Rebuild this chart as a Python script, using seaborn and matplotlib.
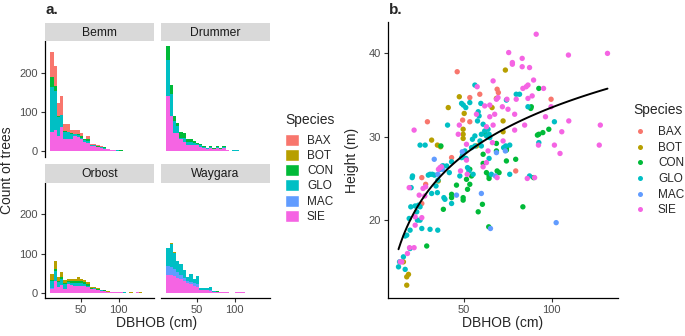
import numpy as np
import pandas as pd
import seaborn as sns
import matplotlib.pyplot as plt
from matplotlib.patches import Patch
from matplotlib.lines import Line2D

# ---- data ----
species = ["BAX", "BOT", "CON", "GLO", "MAC", "SIE"]
sites = ["Bemm", "Drummer", "Orbost", "Waygara"]
pal = ["#F8766D", "#B79F00", "#00BA38", "#00BFC4", "#619CFF", "#F564E3"]

# histogram bins of DBHOB (cm)
bin_start = 10.0
bin_width = 4.33
n_bins = 30

# counts of trees per bin (panel a)
bemm_bax = [63, 51, 34, 50, 18, 21, 6, 11, 11, 9, 2, 8, 2, 2, 2, 1, 0, 1, 0, 0, 0, 0, 0, 1]
bemm_con = [27, 14, 2, 0, 4, 0, 4, 0, 3, 3, 2, 5, 1, 1, 1, 1, 1, 0, 1, 0, 0, 1]
bemm_glo = [114, 100, 49, 30, 16, 17, 13, 6, 5, 5, 4, 4, 3, 3, 2, 2, 2, 1, 0, 1, 1]
bemm_sie = [49, 53, 38, 62, 32, 32, 30, 38, 36, 30, 24, 21, 13, 13, 10, 9, 7, 5, 3, 2, 1, 1, 1]

drummer_con = [34, 24, 11, 8, 15, 13, 7, 7, 6, 3, 4, 2, 1, 2, 2, 2, 2, 2, 1, 0, 1]
drummer_glo = [94, 57, 31, 17, 4, 10, 6, 6, 5, 3, 3, 2, 1, 2, 1, 2, 1, 2, 1, 0, 2, 1]
drummer_sie = [140, 89, 47, 47, 30, 24, 17, 17, 15, 15, 12, 9, 7, 9, 6, 9, 6, 9, 2, 0, 1, 1, 1, 1, 1]

orbost_bot = [15, 20, 9, 13, 6, 6, 5, 5, 9, 7, 5, 5, 2, 2, 1, 1, 1, 1, 0, 0, 0, 1, 0, 0, 1, 0, 0, 1]
orbost_con = [4, 5, 4, 4, 4, 2, 3, 3, 4, 4, 5, 5, 3, 2, 2, 1, 1, 1, 1, 0, 1]
orbost_glo = [18, 25, 12, 17, 12, 6, 6, 8, 8, 7, 6, 3, 1, 2, 1, 1, 1, 0, 0, 1, 0, 0, 1]
orbost_mac = [1, 0, 0, 0, 0, 0, 0, 0, 0, 0, 0, 0, 0, 0, 0, 0, 0, 0, 1]
orbost_sie = [10, 30, 15, 19, 10, 22, 20, 18, 18, 18, 16, 15, 9, 9, 7, 5, 4, 2, 1, 1, 1, 1, 0, 0, 0, 0, 1]

waygara_bot = [2, 3, 2]
waygara_con = [0, 0, 0, 0, 0, 0, 0, 0, 0, 0, 0, 0, 0, 0, 0, 1]
waygara_glo = [45, 59, 41, 27, 28, 21, 10, 20, 10, 20, 3, 4, 4, 9, 1, 1]
waygara_mac = [23, 21, 19, 15, 10, 8, 5, 5, 6, 8, 1, 1, 1, 1, 1, 0, 1]
waygara_sie = [45, 45, 42, 38, 35, 30, 25, 22, 18, 14, 7, 6, 6, 5, 2, 2, 1, 1, 1, 0, 0, 1, 1, 1]

hist_counts = {
    ("Bemm", "BAX"): bemm_bax, ("Bemm", "CON"): bemm_con,
    ("Bemm", "GLO"): bemm_glo, ("Bemm", "SIE"): bemm_sie,
    ("Drummer", "CON"): drummer_con, ("Drummer", "GLO"): drummer_glo,
    ("Drummer", "SIE"): drummer_sie,
    ("Orbost", "BOT"): orbost_bot, ("Orbost", "CON"): orbost_con,
    ("Orbost", "GLO"): orbost_glo, ("Orbost", "MAC"): orbost_mac,
    ("Orbost", "SIE"): orbost_sie,
    ("Waygara", "BOT"): waygara_bot, ("Waygara", "CON"): waygara_con,
    ("Waygara", "GLO"): waygara_glo, ("Waygara", "MAC"): waygara_mac,
    ("Waygara", "SIE"): waygara_sie,
}

# height vs DBHOB (panel b)
bax_dbh = [46.0, 68.8, 53.2, 58.9, 99.6, 29.0, 53.2, 49.1, 42.8, 25.8, 28.0, 25.8, 79.4, 69.5]
bax_ht = [37.8, 35.7, 34.7, 35.1, 34.5, 31.8, 31.8, 32.0, 27.5, 25.1, 24.3, 22.0, 25.9, 35.3]
bot_dbh = [47.2, 73.5, 40.9, 50.0, 49.4, 49.4, 49.4, 31.4, 34.7, 35.2, 57.0, 65.9, 68.4, 72.2,
           72.2, 15.3, 18.2, 17.2, 17.2, 36.5]
bot_ht = [34.8, 38.0, 33.5, 32.8, 30.9, 30.3, 29.8, 29.6, 29.0, 24.7, 28.9, 33.5, 34.6, 31.9,
          30.6, 15.0, 13.5, 13.2, 12.2, 28.8]
con_dbh = [92.6, 88.3, 94.9, 92.6, 98.3, 74.1, 74.1, 79.4, 74.1, 68.8, 69.9, 68.4, 68.4, 64.2,
           64.2, 62.7, 60.8, 60.8, 62.1, 53.2, 54.2, 51.3, 51.9, 53.2, 49.4, 49.4, 45.6, 42.8,
           42.8, 38.1, 36.7, 28.6, 58.0, 60.4, 64.0, 83.5, 89.6, 91.8, 88.0]
con_ht = [35.8, 33.6, 30.5, 30.3, 30.9, 28.6, 28.4, 27.3, 27.1, 25.9, 25.7, 29.2, 28.3, 25.3,
          25.0, 25.7, 26.8, 27.9, 30.3, 26.1, 25.3, 24.9, 23.7, 24.3, 22.4, 22.7, 24.2, 23.1,
          22.7, 21.3, 28.9, 16.9, 21.0, 21.9, 19.2, 21.6, 25.1, 30.2, 33.4]
glo_dbh = [56.1, 81.6, 86.4, 79.7, 53.2, 48.5, 49.5, 50.9, 59.5, 58.0, 58.5, 57.6, 60.8, 61.7,
           63.6, 64.2, 64.6, 59.8, 56.1, 54.7, 59.0, 59.8, 56.1, 54.2, 50.4, 49.1, 51.0, 51.9,
           52.7, 40.5, 40.0, 38.1, 36.2, 41.5, 38.4, 39.0, 42.8, 35.0, 33.9, 34.7, 31.4, 29.5,
           30.5, 31.8, 33.0, 24.8, 27.7, 20.5, 20.3, 19.7, 22.0, 23.9, 24.8, 19.5, 22.9, 23.3,
           24.8, 25.8, 30.5, 34.9, 18.6, 19.1, 17.2, 16.3, 19.1, 15.3, 13.1, 12.5, 16.3, 47.5,
           48.5, 55.1, 64.2, 65.5, 76.0, 76.0, 73.7, 72.5, 74.1, 87.3, 92.6, 101.5, 62.7, 37.5,
           42.8]
glo_ht = [36.2, 35.1, 33.6, 35.1, 34.1, 34.0, 33.8, 33.5, 34.0, 33.0, 32.5, 31.9, 31.5, 30.7,
          30.9, 30.3, 29.9, 30.3, 30.1, 29.7, 29.5, 28.9, 28.9, 28.7, 28.3, 27.8, 27.4, 26.3,
          25.9, 31.4, 26.5, 26.5, 26.1, 25.7, 22.7, 22.5, 22.0, 24.8, 24.1, 23.3, 23.2, 25.4,
          25.5, 25.5, 25.4, 29.0, 29.0, 25.3, 25.1, 23.9, 21.7, 21.8, 21.6, 21.6, 21.0, 20.0,
          20.0, 19.0, 18.9, 18.8, 20.2, 18.8, 18.2, 18.1, 16.6, 15.6, 15.0, 14.4, 14.1, 25.3,
          27.5, 25.5, 27.4, 25.5, 25.5, 29.0, 28.9, 28.7, 34.4, 25.3, 29.3, 31.8, 30.1, 26.5,
          27.0]
mac_dbh = [32.9, 45.6, 59.8, 65.0, 102.5, 68.4, 73.5, 48.9, 37.7, 67.8, 35.0]
mac_ht = [27.3, 23.0, 23.2, 19.0, 19.7, 28.1, 28.3, 28.2, 26.1, 25.3, 25.5]
sie_dbh = [91.1, 75.4, 77.5, 77.5, 83.1, 83.1, 87.3, 109.5, 131.8, 89.6, 83.5, 85.4, 86.4, 95.3,
           96.4, 88.8, 86.4, 99.6, 105.7, 109.7, 127.7, 127.1, 104.7, 101.5, 92.4, 90.2, 86.0,
           84.5, 78.8, 79.7, 75.0, 74.4, 71.8, 69.3, 68.4, 66.5, 57.4, 57.0, 61.7, 64.6, 67.4,
           64.6, 66.5, 62.7, 51.3, 47.2, 46.6, 51.3, 47.9, 51.7, 63.6, 66.1, 72.2, 78.8, 62.7,
           60.8, 68.8, 36.2, 35.3, 37.0, 21.4, 18.6, 24.3, 27.5, 25.8, 22.0, 22.0, 18.8, 21.4,
           17.6, 14.4, 13.5, 28.0, 26.5]
sie_ht = [42.3, 40.1, 38.9, 38.7, 39.4, 38.4, 38.3, 39.8, 40.0, 36.8, 35.8, 36.0, 36.2, 35.8,
          32.4, 34.9, 34.6, 33.6, 30.6, 31.9, 31.4, 29.0, 28.0, 29.0, 29.0, 25.1, 25.0, 31.4,
          32.7, 34.5, 33.3, 34.5, 33.6, 34.7, 34.5, 36.7, 36.0, 32.7, 33.7, 33.8, 32.7, 32.4,
          31.4, 31.2, 29.1, 31.4, 30.3, 27.2, 25.9, 25.5, 28.3, 29.3, 29.5, 30.8, 26.9, 26.4,
          25.1, 26.3, 26.1, 26.4, 30.8, 23.9, 23.0, 22.9, 20.3, 20.4, 19.4, 16.7, 16.7, 16.0,
          15.0, 15.0, 24.0, 23.8]

# ---- tidy frames ----
bin_end = bin_start + n_bins * bin_width
mids = bin_start + bin_width * (np.arange(n_bins) + 0.5)
rows = []
for site in sites:
    for sp in species:
        counts = hist_counts.get((site, sp), [])
        counts = list(counts) + [0] * (n_bins - len(counts))
        for m, c in zip(mids, counts):
            rows.append((site, sp, m, c))
hist_df = pd.DataFrame(rows, columns=["Site", "Species", "DBHOB", "Count"])

pts = []
for sp, xs, ys in zip(species, [bax_dbh, bot_dbh, con_dbh, glo_dbh, mac_dbh, sie_dbh],
                      [bax_ht, bot_ht, con_ht, glo_ht, mac_ht, sie_ht]):
    for x, y in zip(xs, ys):
        pts.append((sp, x, y))
tree_df = pd.DataFrame(pts, columns=["Species", "DBHOB", "Height"])

# ---- figure ----
sns.set_style("white")
plt.rcParams["font.family"] = ["Liberation Sans", "DejaVu Sans"]
W, H = 685, 336
fig = plt.figure(figsize=(W / 100, H / 100), dpi=100)


def box(x0, y0, x1, y1):
    # pixel box (top-left origin) -> figure fraction rect
    return [x0 / W, 1 - y1 / H, (x1 - x0) / W, (y1 - y0) / H]


def style_axis(ax, left, bottom):
    for s in ["top", "right"]:
        ax.spines[s].set_visible(False)
    ax.spines["left"].set_visible(left)
    ax.spines["bottom"].set_visible(bottom)
    for s in ["left", "bottom"]:
        ax.spines[s].set_linewidth(0.9)
        ax.spines[s].set_color("black")
    ax.tick_params(axis="y", left=left, labelleft=left, length=3, width=0.8,
                   color="#333333", labelcolor="#4D4D4D", labelsize=8, pad=2)
    ax.tick_params(axis="x", bottom=bottom, labelbottom=bottom, length=3, width=0.8,
                   color="#333333", labelcolor="#4D4D4D", labelsize=8, pad=2)
    ax.set_xlabel("")
    ax.set_ylabel("")


# panel a: facets
cols_x = [(45, 154), (161, 270)]
rows_y = [((23, 41), (41, 156.5)), ((164, 182.5), (182.5, 298))]
for i, site in enumerate(sites):
    r, c = divmod(i, 2)
    (sx0, sx1) = cols_x[c]
    (st0, st1), (py0, py1) = rows_y[r]
    ax = fig.add_axes(box(sx0, py0, sx1, py1))
    sns.histplot(data=hist_df[hist_df["Site"] == site], x="DBHOB", weights="Count",
                 hue="Species", hue_order=species, palette=pal, binwidth=bin_width,
                 binrange=(bin_start, bin_end), multiple="stack", linewidth=0, alpha=1,
                 legend=False, ax=ax)
    ax.set_xlim(3.0, 146.5)
    ax.set_ylim(-13.4, 281.4)
    ax.set_xticks([50, 100])
    ax.set_yticks([0, 100, 200])
    style_axis(ax, left=(c == 0), bottom=(r == 1))

    strip = fig.add_axes(box(sx0, st0, sx1, st1))
    strip.set_facecolor("#D9D9D9")
    strip.set_xticks([])
    strip.set_yticks([])
    for s in strip.spines.values():
        s.set_visible(False)
    strip.text(0.5, 0.45, site, ha="center", va="center", fontsize=8.7, color="#1A1A1A")

fig.text(7 / W, 1 - 170 / H, "Count of trees", rotation=90, ha="center", va="center",
         fontsize=10)
fig.text(157 / W, 1 - 323 / H, "DBHOB (cm)", ha="center", va="center", fontsize=10)
fig.text(45 / W, 1 - 10 / H, "a.", ha="left", va="center", fontsize=11, fontweight="bold")

# legend a (title drawn separately for ggplot-like spacing)
fig.text(285 / W, 1 - 120 / H, "Species", ha="left", va="center", fontsize=10)
fig.legend(handles=[Patch(facecolor=p, edgecolor="white", label=s)
                    for s, p in zip(species, pal)],
           loc="upper left", bbox_to_anchor=(284.5 / W, 1 - 133.5 / H),
           frameon=False, fontsize=8.5, handlelength=1.2, handleheight=1.2,
           handletextpad=0.7, labelspacing=0.19, borderpad=0, borderaxespad=0)

# panel b: scatter + log fit
axb = fig.add_axes(box(388, 21.7, 618, 297.7))
sns.scatterplot(data=tree_df, x="DBHOB", y="Height", hue="Species", hue_order=species,
                palette=pal, s=15, linewidth=0, legend=False, ax=axb)
sns.regplot(data=tree_df, x="DBHOB", y="Height", logx=True, scatter=False, ci=None,
            color="black", line_kws={"lw": 1.4}, ax=axb)
axb.set_xlim(6.5, 137.8)
axb.set_ylim(10.7, 43.8)
axb.set_xticks([50, 100])
axb.set_yticks([20, 30, 40])
style_axis(axb, left=True, bottom=True)
fig.text(352 / W, 1 - 160 / H, "Height (m)", rotation=90, ha="center", va="center",
         fontsize=10)
fig.text(503 / W, 1 - 323 / H, "DBHOB (cm)", ha="center", va="center", fontsize=10)
fig.text(389 / W, 1 - 10 / H, "b.", ha="left", va="center", fontsize=11, fontweight="bold")

# legend b
fig.text(633 / W, 1 - 110 / H, "Species", ha="left", va="center", fontsize=10)
fig.legend(handles=[Line2D([], [], marker="o", ls="", markersize=3.6,
                           markerfacecolor=p, markeredgewidth=0, label=s)
                    for s, p in zip(species, pal)],
           loc="upper left", bbox_to_anchor=(632 / W, 1 - 126 / H),
           frameon=False, fontsize=8.5, handlelength=1.4, handletextpad=0.8,
           labelspacing=0.31, borderpad=0, borderaxespad=0)

fig.savefig("out.png", dpi=100)
